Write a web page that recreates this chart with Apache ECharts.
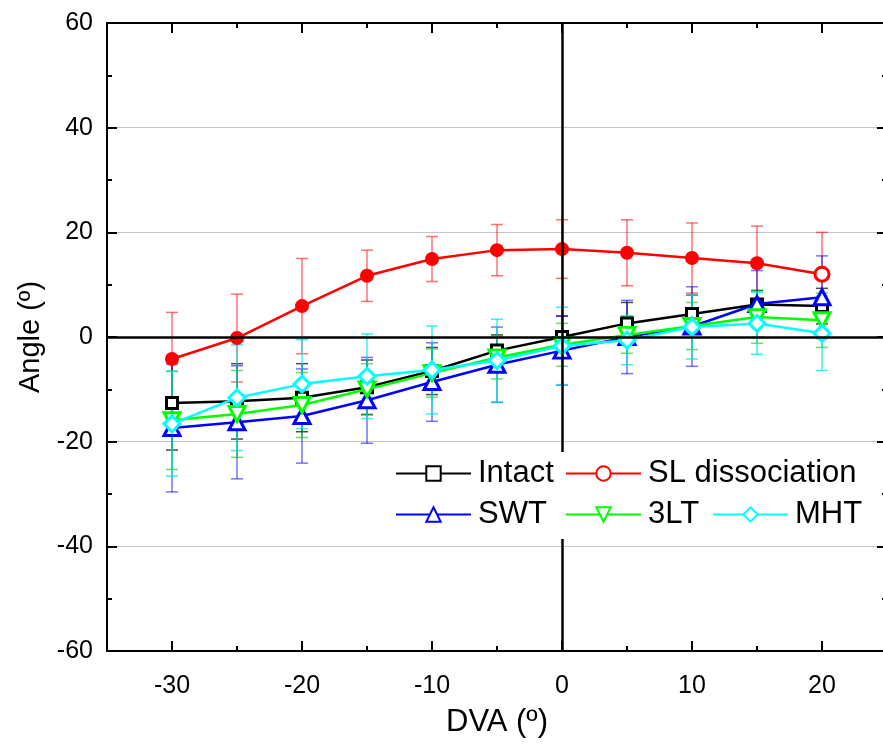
<!DOCTYPE html>
<html>
<head>
<meta charset="utf-8">
<script src="https://cdn.jsdelivr.net/npm/echarts@6/dist/echarts.min.js"></script>
<style>
html,body{margin:0;padding:0;background:#fff;overflow:hidden;}
#chart{width:890px;height:747px;}
</style>
</head>
<body>
<div id="chart"></div>
<script>
// ---- data ----
const dva = [-30, -25, -20, -15, -10, -5, 0, 5, 10, 15, 20];
const intact   = [-12.6, -12.3, -11.6, -9.6, -6.5, -2.6, 0.0, 2.6, 4.4, 6.2, 5.9];
const intactSd = [9.0, 7.2, 6.5, 5.2, 4.5, 3.0, 4.0, 4.0, 3.6, 2.7, 3.4];
const sl       = [-4.2, -0.2, 5.9, 11.7, 14.9, 16.6, 16.8, 16.1, 15.1, 14.1, 12.0];
const slSd     = [8.9, 8.4, 9.1, 4.9, 4.3, 4.9, 5.6, 6.3, 6.7, 7.1, 8.0];
const swt      = [-17.4, -16.3, -15.1, -12.1, -8.6, -5.3, -2.6, 0.0, 2.0, 6.3, 7.6];
const swtSd    = [12.2, 10.8, 9.0, 8.2, 7.5, 7.2, 6.6, 7.0, 7.6, 6.4, 7.9];
const tlt      = [-15.9, -14.7, -13.0, -10.0, -6.9, -3.9, -1.5, 0.4, 2.1, 3.8, 3.2];
const tltSd    = [9.4, 8.3, 6.2, 4.9, 4.6, 4.1, 4.1, 3.5, 4.5, 5.0, 5.2];
const mht      = [-16.6, -11.6, -9.0, -7.5, -6.3, -4.5, -1.7, -0.6, 1.9, 2.6, 0.7];
const mhtSd    = [10.0, 10.1, 8.5, 8.1, 8.4, 7.9, 7.4, 4.7, 6.1, 5.9, 7.1];
const seriesNames = ['Intact', 'SL dissociation', 'SWT', '3LT', 'MHT'];
const xMajorTicks = [-30, -20, -10, 0, 10, 20];
const xMinorTicks = [-25, -15, -5, 5, 15];
const xTitle = 'DVA (º)';
const yTitle = 'Angle (º)';

// ---- styling ----
const FONT = '"Liberation Sans", Arial, sans-serif';
const colors = ['#000000', '#ff0000', '#0000ff', '#00ff00', '#00ffff'];
const barColors = ['rgba(0,0,0,0.7)', 'rgba(255,0,0,0.55)', 'rgba(0,0,255,0.55)', 'rgba(0,200,0,0.6)', 'rgba(0,230,230,0.75)'];
const means = [intact, sl, swt, tlt, mht];
const sds = [intactSd, slSd, swtSd, tltSd, mhtSd];
const symbols = ['rect', 'circle', 'triangle', 'path://M0,0L10,0L5,9Z', 'diamond'];
const symSizes = [11, 14, [16, 15], [16, 15], 16];

const chart = echarts.init(document.getElementById('chart'));

const xBase = {type: 'value', min: -35, max: 25, interval: 5, gridIndex: 0, splitLine: {show: false}};
const tickLine = {color: '#000', width: 2};

const series = [];
// error bars
means.forEach((m, k) => {
  series.push({
    type: 'custom',
    name: seriesNames[k] + ' err',
    z: 1,
    silent: true,
    data: dva.map((x, i) => [x, m[i] - sds[k][i], m[i] + sds[k][i]]),
    encode: {x: 0, y: [1, 2]},
    renderItem: function (params, api) {
      const x = api.value(0);
      const lo = api.coord([x, api.value(1)]);
      const hi = api.coord([x, api.value(2)]);
      const w = 6;
      const st = {stroke: barColors[k], lineWidth: 1.5};
      return {
        type: 'group',
        children: [
          {type: 'line', shape: {x1: lo[0], y1: lo[1], x2: hi[0], y2: hi[1]}, style: st},
          {type: 'line', shape: {x1: hi[0] - w, y1: hi[1], x2: hi[0] + w, y2: hi[1]}, style: st},
          {type: 'line', shape: {x1: lo[0] - w, y1: lo[1], x2: lo[0] + w, y2: lo[1]}, style: st}
        ]
      };
    }
  });
});
// lines
means.forEach((m, k) => {
  const filled = {color: colors[k], borderColor: colors[k], borderWidth: 0};
  series.push({
    type: 'line',
    name: seriesNames[k],
    z: 3 + k * 0.1,
    symbol: symbols[k],
    symbolSize: symSizes[k],
    showAllSymbol: true,
    lineStyle: {color: colors[k], width: 2.5},
    itemStyle: {color: '#ffffff', borderColor: colors[k], borderWidth: 3},
    data: dva.map((x, i) => {
      const d = {value: [x, m[i]]};
      if (k === 1 && i < dva.length - 1) d.itemStyle = filled;
      return d;
    })
  });
});
// zero lines
series.push({
  type: 'line',
  name: 'zero',
  z: 6,
  data: [],
  markLine: {
    silent: true,
    symbol: ['none', 'none'],
    label: {show: false},
    lineStyle: {color: '#000', width: 2.5, type: 'solid'},
    data: [{yAxis: 0}, {xAxis: 0}]
  }
});

const legendBase = {
  orient: 'horizontal', itemWidth: 75, itemHeight: 18, itemGap: 0, padding: 0,
  selectedMode: false, z: 10,
  textStyle: {fontSize: 31, fontFamily: FONT, color: '#000', padding: [0, 0, 0, 2]}
};
const legendPos = [[395, 458], [565, 458], [395, 499], [565, 499], [712, 499]];
const legends = seriesNames.map((n, k) => Object.assign({}, legendBase, {data: [n], left: legendPos[k][0], top: legendPos[k][1]}));

chart.setOption({
  animation: false,
  backgroundColor: '#fff',
  grid: {left: 107, top: 23, right: 3, bottom: 96, containLabel: false},
  legend: legends,
  graphic: [{
    type: 'rect', z: 8, zlevel: 0, silent: true,
    shape: {x: 386, y: 452, width: 488, height: 87},
    style: {fill: '#ffffff'}
  }],
  xAxis: [
    Object.assign({}, xBase, {
      position: 'bottom',
      axisLine: {show: true, onZero: false, lineStyle: tickLine},
      axisTick: {show: true, inside: true, length: 10, customValues: xMajorTicks, lineStyle: tickLine},
      axisLabel: {show: true, customValues: xMajorTicks, fontSize: 25, fontFamily: FONT, color: '#000', margin: 23},
      name: xTitle, nameLocation: 'middle', nameGap: 56,
      nameTextStyle: {fontSize: 31, fontFamily: FONT, color: '#000'}
    }),
    Object.assign({}, xBase, {
      position: 'bottom',
      axisLine: {show: false, onZero: false},
      axisTick: {show: true, inside: true, length: 5, customValues: xMinorTicks, lineStyle: tickLine},
      axisLabel: {show: false}
    }),
    Object.assign({}, xBase, {
      position: 'top',
      axisLine: {show: true, onZero: false, lineStyle: tickLine},
      axisTick: {show: true, inside: true, length: 10, customValues: xMajorTicks, lineStyle: tickLine},
      axisLabel: {show: false}
    }),
    Object.assign({}, xBase, {
      position: 'top',
      axisLine: {show: false, onZero: false},
      axisTick: {show: true, inside: true, length: 5, customValues: xMinorTicks, lineStyle: tickLine},
      axisLabel: {show: false}
    })
  ],
  yAxis: [
    {
      type: 'value', min: -60, max: 60, interval: 20, position: 'left',
      axisLine: {show: true, onZero: false, lineStyle: tickLine},
      axisTick: {show: true, inside: true, length: 10, lineStyle: tickLine},
      minorTick: {show: true, splitNumber: 2, length: 5, lineStyle: tickLine},
      splitLine: {show: true, lineStyle: {color: '#c4c4c4', width: 1}},
      axisLabel: {fontSize: 25, fontFamily: FONT, color: '#000', margin: 14},
      name: yTitle, nameLocation: 'middle', nameGap: 51,
      nameTextStyle: {fontSize: 29, fontFamily: FONT, color: '#000'}
    },
    {
      type: 'value', min: -60, max: 60, interval: 20, position: 'right',
      axisLine: {show: true, onZero: false, lineStyle: tickLine},
      axisTick: {show: true, inside: true, length: 10, lineStyle: tickLine},
      minorTick: {show: true, splitNumber: 2, length: 5, lineStyle: tickLine},
      splitLine: {show: false},
      axisLabel: {show: false}
    }
  ],
  series: series
});
</script>
</body>
</html>
